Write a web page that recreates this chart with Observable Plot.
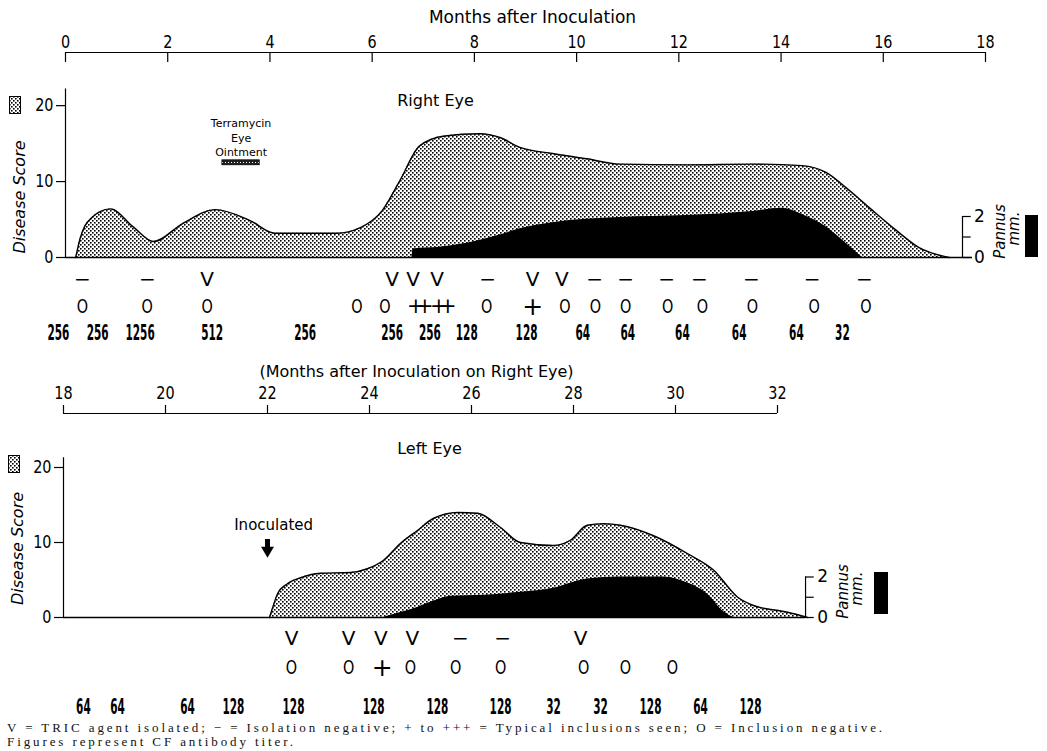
<!DOCTYPE html>
<html><head><meta charset="utf-8">
<script src="https://cdn.jsdelivr.net/npm/d3@7"></script>
<script src="https://cdn.jsdelivr.net/npm/@observablehq/plot@0.6"></script>
<style>
body{margin:0;background:#fff;}
#wrap{position:relative;width:1047px;height:751px;overflow:hidden;background:#fff;}
#wrap > svg.plotsvg{position:absolute;left:0;}
.caption{position:absolute;left:7px;font-family:"Liberation Serif","DejaVu Serif",serif;font-size:13px;letter-spacing:2.9px;color:#111;white-space:nowrap;line-height:14px;}
.swatch{position:absolute;}
</style></head><body>
<svg width="0" height="0" style="position:absolute">
  <defs>
    <pattern id="stip" width="4" height="4" patternUnits="userSpaceOnUse">
      <rect width="4" height="4" fill="#fff"/>
      <rect x="0" y="0" width="1.6" height="1.6" fill="#000"/>
      <rect x="2" y="2" width="1.6" height="1.6" fill="#000"/>
    </pattern>
    <pattern id="dense" width="3" height="3" patternUnits="userSpaceOnUse">
      <rect width="3" height="3" fill="#222"/>
      <rect x="0" y="0" width="1" height="1" fill="#fff"/>
    </pattern>
  </defs>
</svg>
<div id="wrap"></div>
<script>
// ---------- tick labels ----------
const topTicks = [0, 2, 4, 6, 8, 10, 12, 14, 16, 18];
const midTicks = [18, 20, 22, 24, 26, 28, 30, 32];
const scoreTicks = [0, 10, 20];
const pannusTicks = [0, 1, 2];
const pannusLabels = [0, 2];

// ---------- Right eye: disease score (months after inoculation) ----------
const rightMonths = [0.2, 0.29, 0.49, 0.88, 1.33, 1.72, 2.3, 2.93, 3.6, 4.1, 5.31, 5.76, 6.2, 6.54, 6.93, 7.42, 8.1, 8.5, 8.89, 9.53, 10.2, 10.84, 12.15, 13.44, 14.41, 14.88, 15.27, 15.72, 16.25, 16.7, 17.29];
const rightScore  = [0, 2.6, 5.1, 6.4, 4.0, 2.1, 4.5, 6.3, 4.9, 3.2, 3.2, 3.9, 6.2, 10.1, 14.7, 16.0, 16.3, 15.8, 14.5, 13.7, 13.0, 12.3, 12.2, 12.3, 12.1, 11.2, 9.2, 6.6, 3.6, 1.3, 0];
// Right eye: pannus (mm)
const rightPannusMonths = [6.78, 6.8, 7.32, 7.85, 8.5, 8.89, 9.53, 10.84, 12.15, 13.44, 14.02, 14.41, 14.88, 15.27, 15.59];
const rightPannusMm     = [0, 0.42, 0.5, 0.7, 1.1, 1.4, 1.7, 1.95, 2.05, 2.25, 2.4, 2.1, 1.5, 0.7, 0];

// Right eye: isolation results
const rightIsoMonths = [0.33, 1.6, 2.77, 6.39, 6.8, 7.27, 8.26, 9.14, 9.71, 10.35, 10.96, 11.76, 12.4, 13.42, 14.61, 15.63];
const rightIsoMarks  = ["−", "−", "V", "V", "V", "V", "−", "V", "V", "−", "−", "−", "−", "−", "−", "−"];
// Right eye: inclusions
const rightInclMonths = [0.33, 1.6, 2.77, 5.7, 6.25, 6.78, 7.23, 8.24, 9.14, 9.77, 10.37, 10.96, 11.78, 12.46, 13.44, 14.65, 15.66];
const rightInclMarks  = ["O", "O", "O", "O", "O", "++", "++", "O", "+", "O", "O", "O", "O", "O", "O", "O", "O"];
// Right eye: CF antibody titers
const rightTiterMonths = [-0.14, 0.63, 1.46, 2.87, 4.69, 6.39, 7.13, 7.85, 9.02, 10.12, 11.0, 12.07, 13.18, 14.3, 15.2];
const rightTiters      = ["256", "256", "1256", "512", "256", "256", "256", "128", "128", "64", "64", "64", "64", "64", "32"];

// Terramycin eye ointment treatment (months)
const treatmentStart = 3.07, treatmentEnd = 3.8;

// ---------- Left eye (months after inoculation on right eye) ----------
const leftMonths = [22.04, 22.1, 22.2, 22.39, 22.65, 23.04, 23.63, 23.96, 24.27, 24.61, 24.94, 25.25, 25.73, 26.12, 26.57, 26.96, 27.61, 27.94, 28.27, 28.59, 28.92, 29.57, 30.24, 30.75, 31.22, 31.53, 32.2, 32.59];
const leftScore  = [0, 1.3, 3.2, 4.5, 5.3, 5.9, 6.0, 6.5, 7.6, 9.9, 11.6, 13.2, 14.0, 13.9, 12.0, 10.0, 9.6, 10.3, 12.3, 12.5, 12.3, 10.9, 8.5, 6.3, 2.7, 1.6, 0.7, 0];
const leftPannusMonths = [24.27, 24.61, 24.94, 25.25, 25.59, 26.24, 26.96, 27.61, 28.27, 28.92, 29.76, 30.24, 30.63, 30.94, 31.14];
const leftPannusMm     = [0, 0.25, 0.5, 0.8, 1.05, 1.1, 1.25, 1.45, 1.9, 2.0, 2.0, 1.7, 1.15, 0.3, 0];

const leftIsoMonths = [22.47, 23.59, 24.22, 24.84, 25.78, 26.61, 28.14];
const leftIsoMarks  = ["V", "V", "V", "V", "−", "−", "V"];
const leftInclMonths = [22.47, 23.59, 24.25, 24.8, 25.69, 26.57, 28.2, 29.02, 29.94];
const leftInclMarks  = ["O", "O", "+", "O", "O", "O", "O", "O", "O"];
const leftTiterMonths = [18.39, 19.06, 20.43, 21.33, 22.51, 24.08, 25.33, 26.57, 27.61, 28.53, 29.51, 30.49, 31.47];
const leftTiters      = ["64", "64", "64", "128", "128", "128", "128", "128", "32", "32", "128", "64", "128"];

const inoculationMonth = 22.0;

// ---------- helpers ----------
const P = 2.7; // disease-score units per mm of pannus (from the pannus scale)
const sans = '"DejaVu Sans", sans-serif';
const zip = (xs, ys, k = "v") => xs.map((m, i) => ({m, [k]: ys[i]}));

const rScore = zip(rightMonths, rightScore);
const rPannus = zip(rightPannusMonths, rightPannusMm);
const rIso = zip(rightIsoMonths, rightIsoMarks, "s");
const rIncl = zip(rightInclMonths, rightInclMarks, "s");
const rTiter = zip(rightTiterMonths, rightTiters, "s");
const lScore = zip(leftMonths, leftScore);
const lPannus = zip(leftPannusMonths, leftPannusMm);
const lIso = zip(leftIsoMonths, leftIsoMarks, "s");
const lIncl = zip(leftInclMonths, leftInclMarks, "s");
const lTiter = zip(leftTiterMonths, leftTiters, "s");

const T = {lineAnchor: "middle", fontFamily: sans};

function symbolRows(iso, incl, titer, dys) {
  return [
    Plot.text(iso, {...T, x: "m", text: "s", frameAnchor: "bottom", dy: dys[0], fontSize: 20}),
    Plot.text(incl.filter(d => d.s === "O"), {...T, x: "m", text: "s", frameAnchor: "bottom", dy: dys[1], fontSize: 20, ariaDescription: "incl-o"}),
    Plot.text(incl.filter(d => d.s === "+"), {...T, x: "m", text: "s", frameAnchor: "bottom", dy: dys[1], fontSize: 25}),
    Plot.text(incl.filter(d => d.s === "++"), {...T, x: "m", text: "s", frameAnchor: "bottom", dx: 4, dy: dys[1], fontSize: 21, ariaDescription: "incl-pp"}),
    Plot.text(titer, {...T, x: "m", text: "s", frameAnchor: "bottom", dy: dys[2], fontSize: 21, fontWeight: "bold", ariaDescription: "titer"})
  ];
}

function curves(score, pannus) {
  return [
    Plot.areaY(score, {x: "m", y: "v", fill: "url(#stip)", curve: "monotone-x"}),
    Plot.areaY(pannus, {x: "m", y: d => d.v * P, fill: "black", curve: "monotone-x"}),
    Plot.lineY(score, {x: "m", y: "v", stroke: "black", strokeWidth: 1.4, curve: "monotone-x"})
  ];
}

function pannusScale(at) {
  return [
    Plot.ruleX([at], {x: d => d, y1: 0, y2: 2 * P, strokeWidth: 1.2}),
    Plot.ruleY(pannusTicks, {y: d => d * P, x1: () => at, x2: () => at + 0.17, strokeWidth: 1.2}),
    Plot.text(pannusLabels, {...T, x: () => at, y: d => d * P, text: d => String(d), dx: 17, fontSize: 17}),
    Plot.text(["Pannus"], {...T, x: () => at, y: () => 0, text: d => d, dx: 38, dy: -26, rotate: -90, fontSize: 15, fontStyle: "italic"}),
    Plot.text(["mm."], {...T, x: () => at, y: () => 0, text: d => d, dx: 52, dy: -29, rotate: -90, fontSize: 15, fontStyle: "italic"})
  ];
}

function leftAxis(x0, yTop, frameW, labelDy) {
  return [
    Plot.ruleX([x0], {x: d => d, y1: 0, y2: yTop, strokeWidth: 1.2}),
    Plot.ruleY(scoreTicks, {y: d => d, insetRight: frameW - 9, dx: -9, strokeWidth: 1.2}),
    Plot.text(scoreTicks, {...T, y: d => d, text: d => String(d), frameAnchor: "left", dx: -12, textAnchor: "end", fontSize: 18, ariaDescription: "yticklabel"}),
    Plot.text(["Disease Score"], {...T, text: d => d, frameAnchor: "left", textAnchor: "middle", rotate: -90, dx: -46, dy: labelDy, fontSize: 16, fontStyle: "italic"})
  ];
}

function squeeze(svg, label, k) {
  svg.querySelectorAll(`g[aria-description="${label}"] text`).forEach(t => {
    const tr = t.getAttribute("transform");
    if (tr) t.setAttribute("transform", tr + ` scale(${k},1)`);
    else {
      const x = +(t.getAttribute("x") || 0);
      t.setAttribute("x", 0);
      t.setAttribute("transform", `translate(${x},0) scale(${k},1)`);
    }
  });
}
function spacing(svg, label, px) {
  svg.querySelectorAll(`g[aria-description="${label}"] text`).forEach(t => t.setAttribute("letter-spacing", px));
}

const wrap = document.getElementById("wrap");

// ---------- Right eye panel ----------
const c1 = Plot.plot({
  width: 1047, height: 350,
  marginLeft: 65, marginRight: 62, marginTop: 52, marginBottom: 93,
  x: {domain: [0, 18], axis: null},
  y: {domain: [0, 27], axis: null},
  style: {background: "none", overflow: "visible", fontFamily: sans, color: "black"},
  marks: [
    ...curves(rScore, rPannus),
    Plot.ruleY([0], {insetRight: 13, strokeWidth: 1.4}),
    // top axis
    Plot.ruleY([27], {strokeWidth: 1.2}),
    Plot.ruleX(topTicks, {x: d => d, insetBottom: 195, strokeWidth: 1.2}),
    Plot.text(topTicks, {...T, x: d => d, text: d => String(d), frameAnchor: "top", dy: -10, fontSize: 18, ariaDescription: "xticklabel"}),
    Plot.text(["Months after Inoculation"], {...T, text: d => d, frameAnchor: "top", dx: 7, dy: -35, fontSize: 17}),
    Plot.text(["Right Eye"], {...T, text: d => d, frameAnchor: "top", dx: -90, dy: 48, fontSize: 16}),
    ...leftAxis(0, 22.2, 920, 42),
    ...pannusScale(17.55),
    // treatment bar
    Plot.rect([{a: treatmentStart, b: treatmentEnd}], {x1: "a", x2: "b", y1: () => 12.15, y2: () => 12.8, fill: "url(#dense)", stroke: "black", strokeWidth: 0.8}),
    Plot.text(["Terramycin\nEye\nOintment"], {fontFamily: sans, text: d => d, x: () => (treatmentStart + treatmentEnd) / 2, y: () => 12.8, lineAnchor: "bottom", dy: -4, lineHeight: 1.32, fontSize: 11}),
    ...symbolRows(rIso, rIncl, rTiter, [22, 49, 76])
  ]
});
c1.classList.add("plotsvg");
c1.style.top = "0px";
wrap.appendChild(c1);

// ---------- Left eye panel ----------
const c2 = Plot.plot({
  width: 1047, height: 360,
  marginLeft: 63, marginRight: 270, marginTop: 58, marginBottom: 98,
  x: {domain: [18, 32], axis: null},
  y: {domain: [0, 27.2], axis: null},
  style: {background: "none", overflow: "visible", fontFamily: sans, color: "black"},
  marks: [
    ...curves(lScore, lPannus),
    Plot.ruleY([0], {x1: () => 18, x2: () => 32.55, strokeWidth: 1.4}),
    // middle axis
    Plot.ruleY([27.2], {strokeWidth: 1.2}),
    Plot.ruleX(midTicks, {x: d => d, insetTop: -8, insetBottom: 204, strokeWidth: 1.2}),
    Plot.text(midTicks, {...T, x: d => d, text: d => String(d), frameAnchor: "top", dy: -20, fontSize: 18, ariaDescription: "xticklabel"}),
    Plot.text(["(Months after Inoculation on Right Eye)"], {...T, text: d => d, frameAnchor: "top", dx: -4, dy: -42, fontSize: 16}),
    Plot.text(["Left Eye"], {...T, text: d => d, frameAnchor: "top", dx: 9, dy: 35, fontSize: 16}),
    ...leftAxis(18, 21.3, 714, 33),
    ...pannusScale(32.55),
    // inoculation marker
    Plot.text(["Inoculated"], {...T, text: d => d, x: () => inoculationMonth + 0.12, y: () => 12.3, fontSize: 15}),
    Plot.ruleX([inoculationMonth], {x: d => d, y1: () => 10.4, y2: () => 9.3, strokeWidth: 5}),
    Plot.dot([inoculationMonth], {x: d => d, y: () => 8.95, symbol: "triangle", rotate: 180, r: 4.8, fill: "black", stroke: "none"}),
    ...symbolRows(lIso, lIncl, lTiter, [21, 50, 90])
  ]
});
c2.classList.add("plotsvg");
c2.style.top = "355px";
wrap.appendChild(c2);

for (const svg of [c1, c2]) {
  squeeze(svg, "titer", 0.5);
  squeeze(svg, "incl-o", 0.72);
  squeeze(svg, "xticklabel", 0.8);
  squeeze(svg, "yticklabel", 0.8);
  spacing(svg, "incl-pp", -8.5);
}

// ---------- legend swatches ----------
function swatch(left, top, w, h, fill) {
  const ns = "http://www.w3.org/2000/svg";
  const s = document.createElementNS(ns, "svg");
  s.setAttribute("width", w); s.setAttribute("height", h);
  s.setAttribute("class", "swatch");
  s.style.left = left + "px"; s.style.top = top + "px";
  s.innerHTML = `<rect x="0.5" y="0.5" width="${w - 1}" height="${h - 1}" fill="${fill}" stroke="black" stroke-width="1"/>`;
  wrap.appendChild(s);
}
swatch(9, 96, 12, 18, "url(#stip)");
swatch(8, 455, 12, 18, "url(#stip)");
swatch(1025, 215, 13, 42, "black");
swatch(874, 572, 14, 42, "black");

// ---------- caption ----------
const cap = document.createElement("div");
cap.className = "caption";
cap.style.top = "721px";
cap.innerHTML = "V = TRIC agent isolated; − = Isolation negative; + to +++ = Typical inclusions seen; O = Inclusion negative.<br>Figures represent CF antibody titer.";
wrap.appendChild(cap);
</script>
</body></html>
